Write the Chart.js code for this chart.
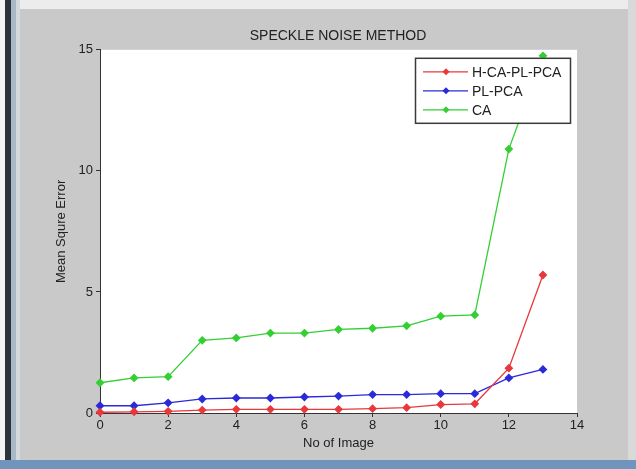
<!DOCTYPE html>
<html lang="en">
<head>
    <meta charset="UTF-8">
    <title>Speckle noise method</title>
    <script src="https://cdn.jsdelivr.net/npm/chart.js"></script>
    <style>
        body { margin: 0; background: #c9c9c9; }
        #wrap { position: relative; width: 636px; height: 469px; overflow: hidden; }
        .frame { position: absolute; }
    </style>
</head>
<body>
    <div id="wrap">
        <canvas id="myChart" width="636" height="469"></canvas>
        <!-- window frame bits from the screenshot -->
        <div class="frame" style="left:0;top:0;width:636px;height:9px;background:#ececec;"></div>
        <div class="frame" style="left:0;top:0;width:5px;height:469px;background:#f4f4f4;"></div>
        <div class="frame" style="left:5px;top:0;width:6px;height:469px;background:#2b333d;"></div>
        <div class="frame" style="left:11px;top:0;width:5px;height:469px;background:#a9b8c6;"></div>
        <div class="frame" style="left:16px;top:0;width:4px;height:469px;background:#d6d9dc;"></div>
        <div class="frame" style="left:628px;top:0;width:8px;height:469px;background:#d9d9d9;"></div>
        <div class="frame" style="left:0;top:460px;width:636px;height:9px;background:#6f95bd;"></div>
    </div>

    <script>
        // x = image number, y = mean square error
        const imageNo = [0, 1, 2, 3, 4, 5, 6, 7, 8, 9, 10, 11, 12, 13];
        const hcaplpca = [0.03, 0.05, 0.07, 0.12, 0.15, 0.15, 0.15, 0.15, 0.18, 0.22, 0.35, 0.38, 1.85, 5.7];
        const plpca = [0.3, 0.3, 0.42, 0.58, 0.62, 0.62, 0.66, 0.7, 0.76, 0.76, 0.8, 0.8, 1.45, 1.8];
        const ca = [1.25, 1.45, 1.5, 3.0, 3.1, 3.3, 3.3, 3.45, 3.5, 3.6, 4.0, 4.05, 10.9, 14.75];
        const seriesNames = ['H-CA-PL-PCA', 'PL-PCA', 'CA'];
        const seriesColors = ['#e8383c', '#2a2ad8', '#33cf33'];
        const xTicks = [0, 2, 4, 6, 8, 10, 12, 14];
        const yTicks = [0, 5, 10, 15];

        const toPoints = vals => vals.map((v, i) => ({ x: imageNo[i], y: v }));
        const family = '"Liberation Sans", Arial, sans-serif';

        // white plot area
        const plotBg = {
            id: 'plotBg',
            beforeDraw(chart) {
                const a = chart.chartArea;
                chart.ctx.save();
                chart.ctx.fillStyle = '#ffffff';
                chart.ctx.fillRect(a.left, a.top, a.right - a.left, a.bottom - a.top);
                chart.ctx.restore();
            }
        };

        // matlab style legend box in the top right corner
        const boxLegend = {
            id: 'boxLegend',
            afterDraw(chart) {
                const ctx = chart.ctx;
                const a = chart.chartArea;
                const w = 155, h = 65;
                const x = a.right - 7 - w, y = a.top + 8;
                ctx.save();
                ctx.fillStyle = '#ffffff';
                ctx.fillRect(x, y, w, h);
                ctx.strokeStyle = '#3a3a3a';
                ctx.lineWidth = 1.5;
                ctx.strokeRect(x + 0.5, y + 0.5, w, h);
                ctx.font = '14px ' + family;
                ctx.textBaseline = 'middle';
                chart.data.datasets.forEach((ds, i) => {
                    const ry = y + 14 + i * 19;
                    ctx.strokeStyle = ds.borderColor;
                    ctx.lineWidth = 1.3;
                    ctx.beginPath();
                    ctx.moveTo(x + 8, ry);
                    ctx.lineTo(x + 53, ry);
                    ctx.stroke();
                    ctx.fillStyle = ds.borderColor;
                    ctx.beginPath();
                    ctx.moveTo(x + 31, ry - 3.5);
                    ctx.lineTo(x + 34.5, ry);
                    ctx.lineTo(x + 31, ry + 3.5);
                    ctx.lineTo(x + 27.5, ry);
                    ctx.closePath();
                    ctx.fill();
                    ctx.fillStyle = '#222';
                    ctx.fillText(ds.label, x + 57, ry + 1);
                });
                ctx.restore();
            }
        };

        const makeSet = (i, vals) => ({
            label: seriesNames[i],
            data: toPoints(vals),
            borderColor: seriesColors[i],
            backgroundColor: seriesColors[i],
            borderWidth: 1.3,
            pointStyle: 'rectRot',
            pointRadius: 3.5,
            pointHoverRadius: 3.5,
            tension: 0,
            clip: false
        });

        const tickFont = { family: family, size: 13 };
        const labelFont = { family: family, size: 13 };

        new Chart(document.getElementById('myChart'), {
            type: 'line',
            data: {
                datasets: [makeSet(0, hcaplpca), makeSet(1, plpca), makeSet(2, ca)]
            },
            plugins: [plotBg, boxLegend],
            options: {
                responsive: false,
                devicePixelRatio: 1,
                animation: false,
                layout: { padding: { left: 40, right: 0, top: 0, bottom: 0 } },
                plugins: {
                    legend: { display: false },
                    tooltip: { enabled: false },
                    title: {
                        display: true,
                        text: 'SPECKLE NOISE METHOD',
                        color: '#222',
                        font: { family: family, size: 14, weight: 'normal' },
                        padding: { top: 28, bottom: 5 }
                    }
                },
                scales: {
                    x: {
                        type: 'linear',
                        min: 0,
                        max: 14,
                        afterBuildTicks: s => { s.ticks = xTicks.map(v => ({ value: v })); },
                        afterFit: s => { s.height = 56; },
                        ticks: { color: '#222', font: tickFont, padding: 1, maxRotation: 0 },
                        grid: { drawOnChartArea: false, tickLength: 4, color: '#333' },
                        border: { color: '#333', width: 1 },
                        title: { display: true, text: 'No of Image', color: '#222', font: labelFont, padding: { top: 0, bottom: 18 } }
                    },
                    y: {
                        min: 0,
                        max: 15,
                        afterBuildTicks: s => { s.ticks = yTicks.map(v => ({ value: v })); },
                        afterFit: s => { s.width = 60; },
                        ticks: { color: '#222', font: tickFont, padding: 3 },
                        grid: { drawOnChartArea: false, tickLength: 4, color: '#333' },
                        border: { color: '#333', width: 1 },
                        title: { display: true, text: 'Mean Squre Error', color: '#222', font: labelFont, padding: { top: 14, bottom: 0 } }
                    },
                    // empty right margin like the matlab figure
                    yr: {
                        position: 'right',
                        min: 0,
                        max: 15,
                        afterFit: s => { s.width = 59; },
                        ticks: { display: false },
                        grid: { display: false },
                        border: { display: false }
                    }
                }
            }
        });
    </script>
</body>
</html>
